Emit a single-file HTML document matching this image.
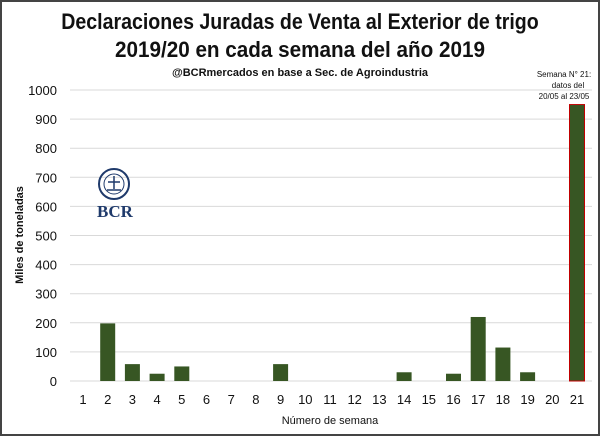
<!DOCTYPE html>
<html><head><meta charset="utf-8"><style>
body{margin:0;background:#fff}
#wrap{position:relative;width:600px;height:436px;box-sizing:border-box;border:2px solid #444;background:#fff;font-family:"Liberation Sans",sans-serif}
</style></head><body>
<div id="wrap">
<svg id="c" width="596" height="432" viewBox="2 2 596 432" style="position:absolute;left:0;top:0">
<text x="0" y="29" text-anchor="middle" font-size="22" font-weight="bold" fill="#111" transform="translate(300,0) scale(0.89,1)">Declaraciones Juradas de Venta al Exterior de trigo</text>
<text x="0" y="57" text-anchor="middle" font-size="22" font-weight="bold" fill="#111" transform="translate(300,0) scale(0.94,1)">2019/20 en cada semana del año 2019</text>
<text x="300" y="76" text-anchor="middle" font-size="11" font-weight="bold" fill="#111">@BCRmercados en base a Sec. de Agroindustria</text>
<g id="grid"></g><g id="bars"></g><g id="xt"></g><g id="yt"></g>
<text transform="translate(23,235) rotate(-90)" text-anchor="middle" font-size="11" font-weight="bold" fill="#111">Miles de toneladas</text>
<text x="330" y="424" text-anchor="middle" font-size="11" fill="#111">Número de semana</text>
<g font-size="8" fill="#111" text-anchor="middle">
<text x="564" y="77">Semana N° 21:</text><text x="568" y="88">datos del</text><text x="564" y="99">20/05 al 23/05</text></g>
<g>
<circle cx="114" cy="184" r="15" fill="none" stroke="#1f3a6b" stroke-width="2"/>
<circle cx="114" cy="184" r="10" fill="none" stroke="#1f3a6b" stroke-width="1"/>
<path d="M107 190h14M114 176v13M108 182h12" stroke="#1f3a6b" stroke-width="1.5"/>
<text x="115" y="217" text-anchor="middle" font-family="Liberation Serif,serif" font-size="17" font-weight="bold" fill="#1f3a6b">BCR</text></g>
</svg></div>
<script>
const weeks=[1,2,3,4,5,6,7,8,9,10,11,12,13,14,15,16,17,18,19,20,21];
const values=[0,198,58,25,50,0,0,0,58,0,0,0,0,30,0,25,220,115,30,0,950];
const yTicks=[0,100,200,300,400,500,600,700,800,900,1000];
const NS="http://www.w3.org/2000/svg";
const y=v=>381-v*0.291, x=w=>83+(w-1)*24.7;
function mk(t,a,p){const e=document.createElementNS(NS,t);for(const k in a)e.setAttribute(k,a[k]);document.getElementById(p).appendChild(e);return e;}
yTicks.forEach(t=>{
 const g=mk('line',{x1:70,x2:592,y1:y(t),y2:y(t),stroke:'#d9d9d9','stroke-width':1},'grid');
 
 
 const l=mk('text',{x:57,y:y(t)+5,'text-anchor':'end','font-size':13,fill:'#111'},'yt');l.textContent=t;
 
 
});
weeks.forEach((w,i)=>{
 const v=values[i];
 if(v>0){const b=mk('rect',{x:x(w)-7.5,y:y(v),width:15,height:y(0)-y(v),fill:'#375623',stroke:w===21?'#c00000':'none','stroke-width':1},'bars');
 
 }
 const t=mk('text',{x:x(w),y:404,'text-anchor':'middle','font-size':13,fill:'#111'},'xt');t.textContent=w;
 
 
});
</script>
</body></html>
